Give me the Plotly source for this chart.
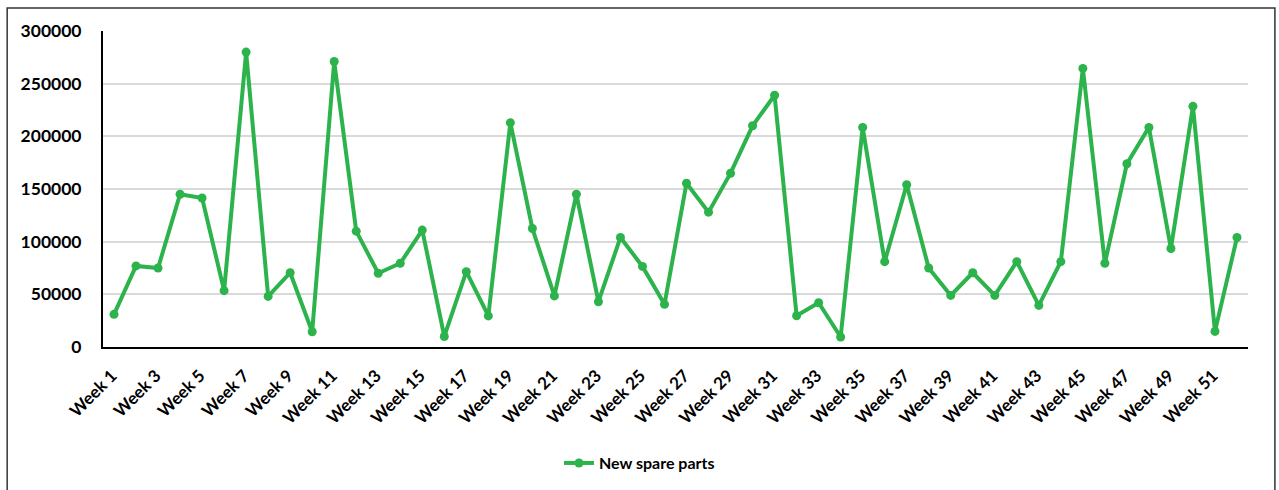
import plotly.graph_objects as go

weeks = [f"Week {i}" for i in range(1, 53)]
values = [31000, 77000, 75000, 145000, 141500, 53500, 280000, 48000, 70500, 14500,
          271000, 110000, 70000, 79500, 111000, 10000, 71500, 29500, 213000, 112500,
          48500, 145000, 43000, 104000, 76500, 40500, 155500, 128000, 165000, 210000,
          239000, 29700, 42000, 9500, 208500, 81000, 154000, 75000, 49000, 70500,
          49000, 81000, 39500, 81000, 264500, 79500, 174000, 208500, 93500, 228500,
          14800, 104000]
tick_labels = [f"Week {i}" for i in range(1, 53, 2)]
series_name = "New spare parts"

green = "#2db34b"
font_family = "Lato, 'Open Sans', sans-serif"

fig = go.Figure()
fig.add_trace(go.Scatter(
    x=weeks, y=values, mode="lines+markers", name=series_name,
    line=dict(color=green, width=4),
    marker=dict(color=green, size=9),
))

fig.update_layout(
    width=1279, height=490,
    margin=dict(l=103, r=31, t=31, b=143),
    paper_bgcolor="white", plot_bgcolor="white",
    font=dict(family=font_family, color="black", size=14),
    showlegend=True,
    legend=dict(orientation="h", xref="container", x=0.5, xanchor="center",
                yref="container", y=0.055, yanchor="middle",
                font=dict(size=16, family=font_family, weight="bold")),
    xaxis=dict(
        type="category", tickmode="array", tickvals=tick_labels, ticktext=tick_labels,
        tickangle=-45, showgrid=False, showline=True, linecolor="black", linewidth=2,
        tickfont=dict(size=17, weight="bold"), ticks="", ticklabelshift=-2,
        ticklabelstandoff=10,
        range=[-0.5, 51.5],
    ),
    yaxis=dict(
        range=[0, 300000], dtick=50000, showgrid=True, gridcolor="#d9d9d9", gridwidth=1.5,
        showline=True, linecolor="black", linewidth=2, zeroline=False,
        tickfont=dict(size=17.5, weight="bold"), ticks="outside", ticklen=16,
        tickcolor="rgba(0,0,0,0)", tickformat="d",
    ),
    shapes=[dict(type="rect", xref="paper", yref="paper",
                 x0=-0.0837, x1=1.0235, y0=-0.55, y1=1.0728,
                 line=dict(color="#333333", width=1.5))],
)

fig.write_html("out.html")
